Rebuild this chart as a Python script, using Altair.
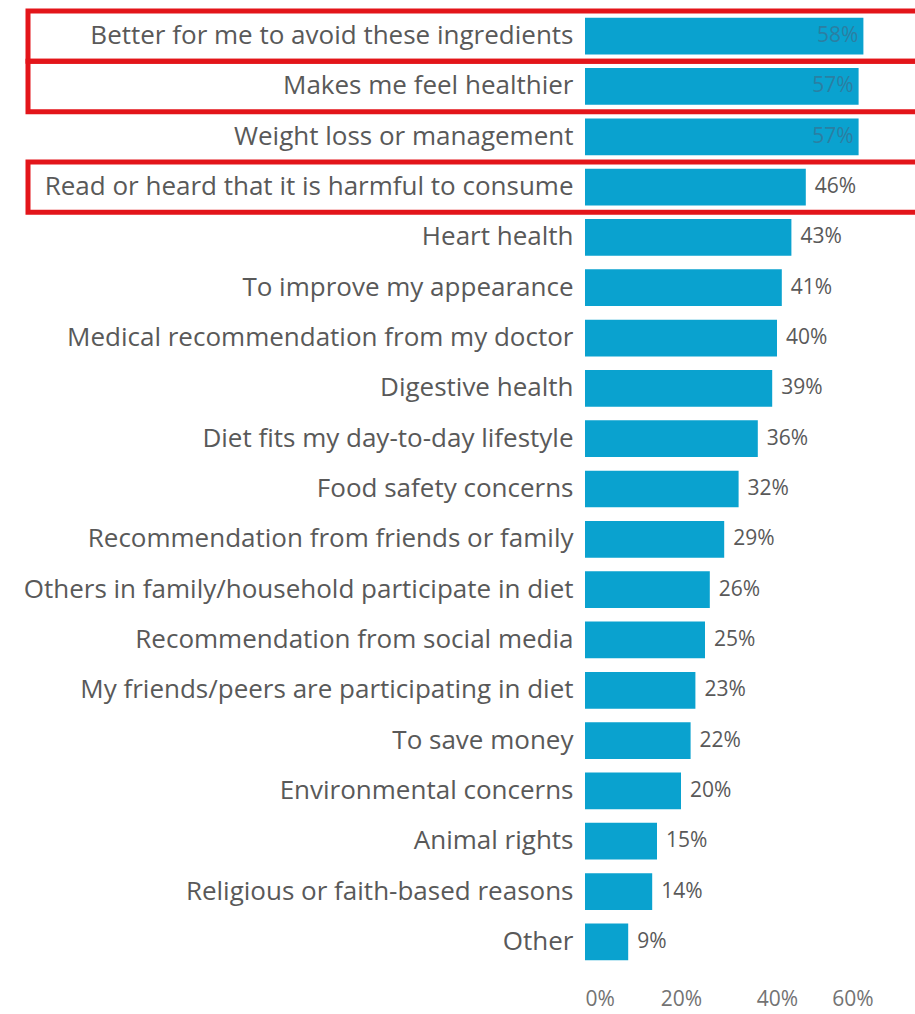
import altair as alt
import pandas as pd

categories = [
    "Better for me to avoid these ingredients",
    "Makes me feel healthier",
    "Weight loss or management",
    "Read or heard that it is harmful to consume",
    "Heart health",
    "To improve my appearance",
    "Medical recommendation from my doctor",
    "Digestive health",
    "Diet fits my day-to-day lifestyle",
    "Food safety concerns",
    "Recommendation from friends or family",
    "Others in family/household participate in diet",
    "Recommendation from social media",
    "My friends/peers are participating in diet",
    "To save money",
    "Environmental concerns",
    "Animal rights",
    "Religious or faith-based reasons",
    "Other",
]
values = [58, 57, 57, 46, 43, 41, 40, 39, 36, 32, 29, 26, 25, 23, 22, 20, 15, 14, 9]
highlighted = [
    "Better for me to avoid these ingredients",
    "Makes me feel healthier",
    "Read or heard that it is harmful to consume",
]
inside_labels = [
    "Better for me to avoid these ingredients",
    "Makes me feel healthier",
    "Weight loss or management",
]

df = pd.DataFrame({"cat": categories, "val": values})
df["label"] = [f"{v}%" for v in values]
df["inside"] = df["cat"].isin(inside_labels)
df["hl"] = df["cat"].isin(highlighted)

FONT = "Open Sans"
GRAY = "#595959"

y_enc = alt.Y(
    "cat:N",
    sort=categories,
    title=None,
    scale=alt.Scale(paddingInner=0, paddingOuter=0),
    axis=alt.Axis(
        domain=False, ticks=False, labelPadding=12, labelFont=FONT,
        labelFontSize=26, labelColor=GRAY, labelLimit=600,
    ),
)
x_scale = alt.Scale(domain=[0, 60], nice=False)

base = alt.Chart(df)

bars = base.mark_bar(color="#0aa2cf", height={"band": 0.73}).encode(
    x=alt.X(
        "val:Q", scale=x_scale, title=None,
        axis=alt.Axis(
            values=[0, 20, 40, 60], labelExpr="datum.value + '%'",
            domain=False, ticks=False, grid=False, labelPadding=21,
            labelFont=FONT, labelFontSize=21, labelColor="#737373",
        ),
    ),
    y=y_enc,
)

out_text = base.transform_filter("!datum.inside").mark_text(
    align="left", baseline="middle", dx=9, font=FONT, fontSize=21, color=GRAY
).encode(x=alt.X("val:Q", scale=x_scale), y=alt.Y("cat:N", sort=categories), text="label:N")

in_text = base.transform_filter("datum.inside").mark_text(
    align="right", baseline="middle", dx=-5, font=FONT, fontSize=21, color="#2a7fa3"
).encode(x=alt.X("val:Q", scale=x_scale), y=alt.Y("cat:N", sort=categories), text="label:N")

boxes = base.transform_filter("datum.hl").mark_rect(
    fillOpacity=0, stroke="#e3151a", strokeWidth=5
).encode(
    x=alt.value(-557), x2=alt.value(335), y=alt.Y("cat:N", sort=categories)
)

chart = alt.layer(bars, out_text, in_text, boxes).properties(
    width=288, height=956,
    autosize=alt.AutoSizeParams(type="none"),
    padding={"left": 585, "top": 11, "right": 42, "bottom": 47},
).configure_view(stroke=None)

chart.save("out.html", embed_options={"renderer": "svg", "actions": False})
